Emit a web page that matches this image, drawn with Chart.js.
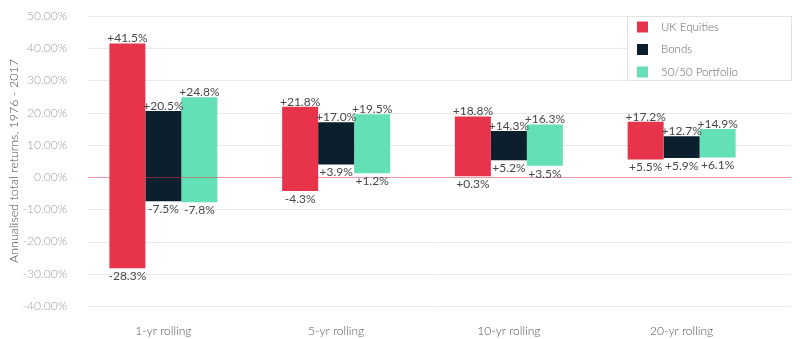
<!DOCTYPE html>
<html>
<head>
<meta charset="utf-8">
<script src="https://cdn.jsdelivr.net/npm/chart.js@4.4.1/dist/chart.umd.min.js"></script>
<style>
html,body{margin:0;padding:0;background:#fff;}
#wrap{width:800px;height:339px;position:relative;}
</style>
</head>
<body>
<div id="wrap"><canvas id="c" width="800" height="339"></canvas></div>
<script>
const categories = ['1-yr rolling', '5-yr rolling', '10-yr rolling', '20-yr rolling'];
const seriesNames = ['UK Equities', 'Bonds', '50/50 Portfolio'];
const ukLow  = [-28.3, -4.3, 0.3, 5.5];
const ukHigh = [41.5, 21.8, 18.8, 17.2];
const bondsLow  = [-7.5, 3.9, 5.2, 5.9];
const bondsHigh = [20.5, 17.0, 14.3, 12.7];
const portLow  = [-7.8, 1.2, 3.5, 6.1];
const portHigh = [24.8, 19.5, 16.3, 14.9];
const yTicks = [50, 40, 30, 20, 10, 0, -10, -20, -30, -40];
const yTitle = 'Annualised total returns, 1976 - 2017';

const colors = ['#e8344b', '#0b1f2d', '#63e0b5'];
const FONT = 'Lato, "Open Sans", sans-serif';

function ranges(lo, hi) { return lo.map((v, i) => [v, hi[i]]); }

const fmt = v => (v >= 0 ? '+' : '') + v.toFixed(1) + '%';

const gridPlugin = {
  id: 'customGrid',
  beforeDatasetsDraw(chart) {
    const ctx = chart.ctx, y = chart.scales.y;
    ctx.save();
    ctx.lineWidth = 1;
    y.ticks.forEach(t => {
      if (t.value === 0) return;
      const py = Math.round(y.getPixelForValue(t.value)) + 0.5;
      ctx.strokeStyle = '#e8e8e8';
      ctx.beginPath(); ctx.moveTo(88, py); ctx.lineTo(791, py); ctx.stroke();
    });
    ctx.restore();
  },
  afterDatasetsDraw(chart) {
    const ctx = chart.ctx, y = chart.scales.y;
    ctx.save();
    const py = Math.round(y.getPixelForValue(0)) + 0.5;
    ctx.strokeStyle = 'rgba(232,52,75,0.5)';
    ctx.lineWidth = 1;
    ctx.beginPath(); ctx.moveTo(88, py); ctx.lineTo(791, py); ctx.stroke();
    ctx.font = '12px ' + FONT;
    ctx.fillStyle = '#474747';
    ctx.textAlign = 'center';
    chart.data.datasets.forEach((ds, di) => {
      const meta = chart.getDatasetMeta(di);
      meta.data.forEach((bar, i) => {
        const [lo, hi] = ds.data[i];
        const top = y.getPixelForValue(hi), bot = y.getPixelForValue(lo);
        ctx.textBaseline = 'bottom';
        ctx.fillText(fmt(hi), bar.x, top + 1);
        ctx.textBaseline = 'top';
        ctx.fillText(fmt(lo), bar.x, bot + 2);
      });
    });
    ctx.restore();
  },
  afterDraw(chart) {
    const ctx = chart.ctx;
    ctx.save();
    const x0 = 627.5, y0 = 16.5, w = 164, h = 64;
    ctx.fillStyle = '#fff';
    ctx.fillRect(x0, y0, w, h);
    ctx.strokeStyle = '#e2e2e2';
    ctx.lineWidth = 1;
    ctx.strokeRect(x0, y0, w, h);
    ctx.font = '300 11.5px ' + FONT;
    ctx.textBaseline = 'middle';
    ctx.textAlign = 'left';
    chart.data.datasets.forEach((ds, i) => {
      const cy = 27 + i * 22.5;
      ctx.fillStyle = ds.backgroundColor;
      ctx.fillRect(637, cy - 5.5, 11, 11);
      ctx.fillStyle = '#666';
      ctx.fillText(ds.label, 661, cy);
    });
    ctx.restore();
  }
};

new Chart(document.getElementById('c'), {
  type: 'bar',
  data: {
    labels: categories,
    datasets: [
      { label: seriesNames[0], data: ranges(ukLow, ukHigh), backgroundColor: colors[0] },
      { label: seriesNames[1], data: ranges(bondsLow, bondsHigh), backgroundColor: colors[1] },
      { label: seriesNames[2], data: ranges(portLow, portHigh), backgroundColor: colors[2] }
    ]
  },
  options: {
    responsive: false,
    animation: false,
    devicePixelRatio: 1,
    layout: { padding: { top: 16, right: 32, bottom: 0, left: 0 } },
    datasets: { bar: { barPercentage: 1, categoryPercentage: 0.625, borderSkipped: false, borderWidth: 0 } },
    plugins: { legend: { display: false }, tooltip: { enabled: false } },
    scales: {
      x: {
        grid: { display: false },
        border: { display: false },
        ticks: { color: '#555', font: { family: FONT, size: 12, weight: 300 }, padding: 10 },
        afterFit(s) { s.height = 33; }
      },
      y: {
        min: -40, max: 50,
        afterBuildTicks(s) { s.ticks = yTicks.map(v => ({ value: v })); },
        grid: { display: false },
        border: { display: false },
        ticks: { color: '#a0a0a0', font: { family: FONT, size: 12, weight: 300 }, padding: 2,
                 callback: v => v.toFixed(2) + '%' },
        title: { display: true, text: yTitle, color: '#444', font: { family: FONT, size: 12.5, weight: 300 }, padding: { top: 6, bottom: 0 } },
        afterFit(s) { s.width = 77; }
      }
    }
  },
  plugins: [gridPlugin]
});
</script>
</body>
</html>
